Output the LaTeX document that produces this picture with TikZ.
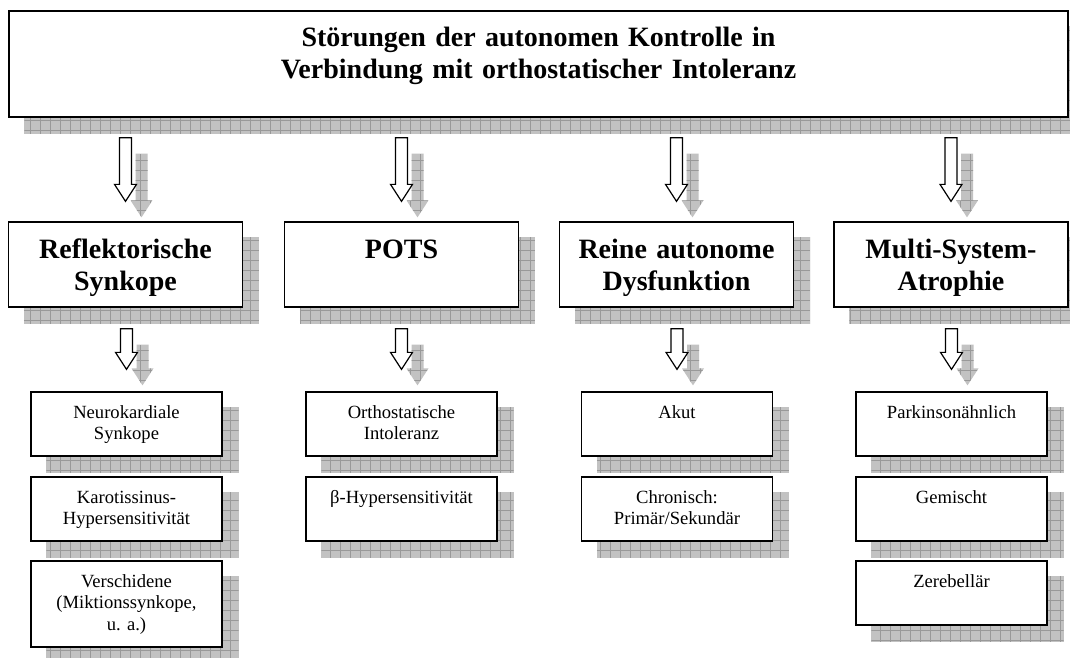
\documentclass[tikz,border=0pt]{standalone}
\usepackage{fontspec}
\setmainfont{Liberation Serif}
\usetikzlibrary{calc}
\pgfdeclarelayer{paper}
\pgfdeclarelayer{bg}
\pgfsetlayers{paper,bg,main}
\definecolor{shfill}{gray}{0.76}
\definecolor{shline}{gray}{0.60}
\tikzset{
  boxnode/.style={draw=black, line width=1.3pt, fill=white, inner sep=0pt},
  bigbox/.style={boxnode, minimum width=234pt, minimum height=85pt},
  smallbox/.style={boxnode, minimum width=191pt, minimum height=64pt},
  shadowfill/.style={fill=shfill, path picture={\draw[shline, line width=0.5pt] (path picture bounding box.south west) grid[step=10pt] (path picture bounding box.north east);}},
  titletext/.style={anchor=base, text width=1000pt, align=center, inner sep=0pt, font=\fontsize{28pt}{32pt}\selectfont\bfseries\frenchspacing},
  headtext/.style={anchor=base, text width=230pt, align=center, inner sep=0pt, font=\fontsize{28pt}{32pt}\selectfont\bfseries\frenchspacing},
  subtext/.style={anchor=base, text width=188pt, align=center, inner sep=0pt, font=\fontsize{18.6pt}{21.5pt}\selectfont\frenchspacing},
  arrowline/.style={draw=black, line width=1.2pt, fill=white, line join=miter},
}
\newcommand\arrowshape[3]{($(#1)+(#3-6,#3)$) -- ($(#1)+(#3+6,#3)$) -- ($(#2)+(#3+6,#3-17)$) -- ($(#2)+(#3+11,#3-17)$) -- ($(#2)+(#3,#3)$) -- ($(#2)+(#3-11,#3-17)$) -- ($(#2)+(#3-6,#3-17)$) -- cycle}
\newcommand\blockarrow[2]{%
  \begin{pgfonlayer}{bg}\path[shadowfill] \arrowshape{#1}{#2}{16};\end{pgfonlayer}
  \path[arrowline] \arrowshape{#1}{#2}{0};}
\newcommand\boxshadow[1]{%
  \begin{pgfonlayer}{bg}\path[shadowfill] ($(#1.north west)+(16,16)$) rectangle ($(#1.south east)+(16,16)$);\end{pgfonlayer}}
\begin{document}
\begin{tikzpicture}[x=1pt, y=-1pt]
\useasboundingbox (0,0) rectangle (1070,657);
\begin{pgfonlayer}{paper}
\fill[white] (0,0) rectangle (1070,657);
\end{pgfonlayer}

% top box
\node[boxnode, minimum width=1059pt, minimum height=106pt] (top) at (538.5,64) {};
\node[titletext] (ttop) at ($(top.north)+(0,36)$) {Störungen der autonomen Kontrolle in\\Verbindung mit orthostatischer Intoleranz};

% level 2
\node[bigbox] (c1) at (125.5,264.5) {};
\node[bigbox] (c2) at (401.5,264.5) {};
\node[bigbox] (c3) at (676.5,264.5) {};
\node[bigbox] (c4) at (951,264.5) {};
\node[headtext] (t1) at ($(c1.north)+(0,37)$) {Reflektorische\\Synkope};
\node[headtext] (t2) at ($(c2.north)+(0,37)$) {POTS};
\node[headtext] (t3) at ($(c3.north)+(0,37)$) {Reine autonome\\Dysfunktion};
\node[headtext] (t4) at ($(c4.north)+(0,37)$) {Multi-System-\\Atrophie};

% level 3
\node[smallbox] (c1a) at (126.5,424) {};
\node[smallbox] (c1b) at (126.5,509) {};
\node[smallbox, minimum height=86pt] (c1c) at (126.5,604) {};
\node[smallbox] (c2a) at (401.5,424) {};
\node[smallbox] (c2b) at (401.5,509) {};
\node[smallbox] (c3a) at (677,424) {};
\node[smallbox] (c3b) at (677,509) {};
\node[smallbox] (c4a) at (951.5,424) {};
\node[smallbox] (c4b) at (951.5,509) {};
\node[smallbox] (c4c) at (951.5,593) {};

\node[subtext] (t1a) at ($(c1a.north)+(0,27)$) {Neurokardiale\\Synkope};
\node[subtext] (t1b) at ($(c1b.north)+(0,27)$) {Karotissinus-\\Hypersensitivität};
\node[subtext] (t1c) at ($(c1c.north)+(0,27)$) {Verschidene\\(Miktionssynkope,\\u. a.)};
\node[subtext] (t2a) at ($(c2a.north)+(0,27)$) {Orthostatische\\Intoleranz};
\node[subtext] (t2b) at ($(c2b.north)+(0,27)$) {β-Hypersensitivität};
\node[subtext] (t3a) at ($(c3a.north)+(0,27)$) {Akut};
\node[subtext] (t3b) at ($(c3b.north)+(0,27)$) {Chronisch:\\Primär/Sekundär};
\node[subtext] (t4a) at ($(c4a.north)+(0,27)$) {Parkinsonähnlich};
\node[subtext] (t4b) at ($(c4b.north)+(0,27)$) {Gemischt};
\node[subtext] (t4c) at ($(c4c.north)+(0,27)$) {Zerebellär};

% shadows
\foreach \n in {top,c1,c2,c3,c4,c1a,c1b,c1c,c2a,c2b,c3a,c3b,c4a,c4b,c4c} {\boxshadow{\n}}

% arrows level 1 -> 2
\foreach \n in {c1,c2,c3,c4} {
  \coordinate (p\n) at (top.south -| \n.north);
  \coordinate (s\n) at ($(p\n)+(0,20)$);
  \coordinate (e\n) at ($(\n.north)+(0,-20)$);
  \blockarrow{s\n}{e\n}
}
% arrows level 2 -> 3
\foreach \n/\m in {c1/c1a,c2/c2a,c3/c3a,c4/c4a} {
  \coordinate (q\m) at (\n.south -| \m.north);
  \coordinate (s\m) at ($(q\m)+(0,21)$);
  \coordinate (e\m) at ($(\m.north)+(0,-22)$);
  \blockarrow{s\m}{e\m}
}
\end{tikzpicture}
\end{document}
